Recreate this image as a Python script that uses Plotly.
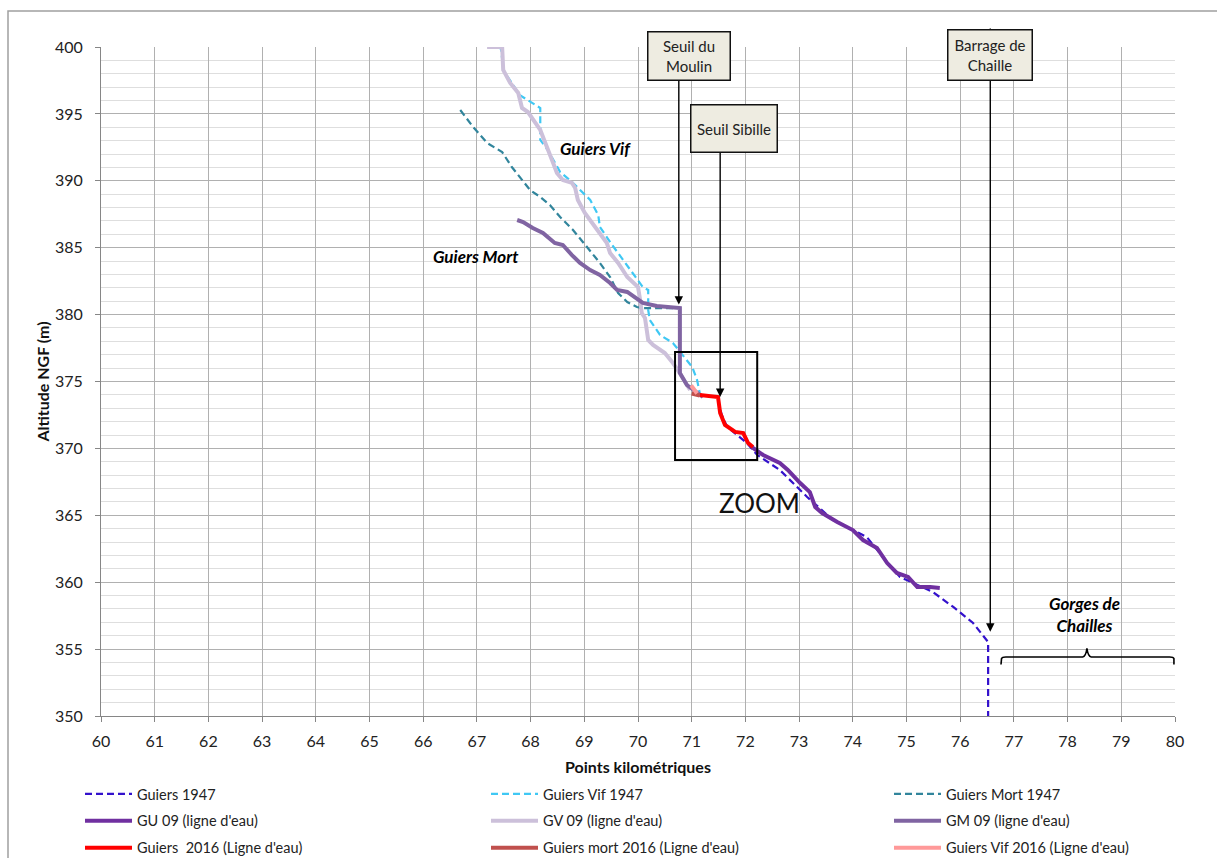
import plotly.graph_objects as go

# ---------------- data (km, altitude m) ----------------
g1947_x = [71.49, 71.56, 71.66, 72.03, 72.22, 72.64, 73.15, 73.63, 74.00, 74.26, 74.56, 74.88, 75.49, 75.87, 76.24, 76.52, 76.52]
g1947_y = [373.62, 372.5, 371.60, 370.40, 369.51, 368.39, 366.37, 364.65, 363.90, 363.38, 361.88, 360.39, 359.27, 358.15, 356.95, 355.53, 350.0]

vif1947_x = [67.18, 67.45, 67.49, 67.80, 68.18, 68.18, 68.18, 68.32, 68.55, 68.79, 69.11, 69.26, 69.29, 69.52, 69.85, 70.09, 70.19, 70.19, 70.22, 70.41, 70.65, 71.01, 71.10, 71.15]
vif1947_y = [400.1, 399.9, 398.28, 396.4, 395.44, 394.17, 393.05, 392.3, 390.66, 389.84, 388.57, 387.44, 386.55, 385.2, 383.33, 382.06, 381.84, 380.34, 379.6, 378.48, 377.88, 376.08, 375.11, 374.14]

mort1947_x = [66.69, 66.93, 67.19, 67.47, 67.65, 67.99, 68.18, 68.36, 68.55, 68.79, 69.05, 69.29, 69.48, 69.63, 69.80, 69.98, 70.09, 70.73]
mort1947_y = [395.29, 394.02, 392.83, 392.15, 391.03, 389.31, 388.79, 388.19, 387.29, 386.32, 385.05, 383.86, 382.81, 381.61, 380.94, 380.57, 380.49, 380.49]

gu09_x = [72.12, 72.33, 72.64, 72.79, 73.02, 73.20, 73.30, 73.43, 73.71, 74.00, 74.19, 74.45, 74.64, 74.82, 75.03, 75.20, 75.44, 75.62]
gu09_y = [370.10, 369.51, 368.91, 368.39, 367.41, 366.74, 365.62, 365.17, 364.50, 363.90, 363.15, 362.56, 361.43, 360.69, 360.39, 359.64, 359.64, 359.57]

gv09_x = [67.19, 67.47, 67.49, 67.62, 67.77, 67.84, 67.95, 68.18, 68.42, 68.49, 68.60, 68.77, 68.83, 68.88, 69.01, 69.29, 69.42, 69.48, 69.63, 69.80, 69.91, 70.00, 70.04, 70.07, 70.13, 70.19, 70.28, 70.50, 70.65, 70.74, 70.97]
gv09_y = [400.0, 400.0, 398.28, 397.31, 396.56, 395.44, 395.14, 393.80, 391.33, 390.58, 390.06, 389.84, 389.46, 388.57, 387.59, 386.10, 385.35, 384.60, 383.86, 382.81, 382.44, 382.06, 381.09, 380.12, 379.75, 378.10, 377.73, 377.13, 376.38, 375.86, 374.36]

gm09_x = [67.75, 67.86, 68.04, 68.23, 68.45, 68.60, 68.77, 68.92, 69.11, 69.29, 69.48, 69.61, 69.80, 69.94, 70.09, 70.35, 70.78, 70.78, 70.78, 70.91, 71.10, 71.21]
gm09_y = [387.07, 386.92, 386.47, 386.10, 385.35, 385.20, 384.45, 383.86, 383.33, 382.96, 382.36, 381.84, 381.69, 381.32, 380.87, 380.64, 380.49, 378.10, 375.63, 374.74, 374.14, 373.84]

g2016_x = [71.15, 71.49, 71.53, 71.62, 71.81, 71.96, 72.05, 72.14]
g2016_y = [373.99, 373.84, 372.65, 371.75, 371.23, 371.15, 370.40, 370.10]

mort2016_x = [71.00, 71.15]
mort2016_y = [374.10, 373.95]

vif2016_x = [70.99, 71.10]
vif2016_y = [374.70, 374.10]

series_names = ["Guiers 1947", "Guiers Vif 1947", "Guiers Mort 1947",
                "GU 09 (ligne d'eau)", "GV 09 (ligne d'eau)", "GM 09 (ligne d'eau)",
                "Guiers  2016 (Ligne d'eau)", "Guiers mort 2016 (Ligne d'eau)", "Guiers Vif 2016 (Ligne d'eau)"]
series_colors = ["#3311CC", "#3FC8F4", "#31859C", "#7030A0", "#CCC0DA", "#8064A2", "#FF0000", "#C0504D", "#FF9999"]

x_ticks = list(range(60, 81))
y_ticks = list(range(350, 401, 5))

# ---------------- figure ----------------
FONT = "Lato"
fig = go.Figure()

series = [
    (g1947_x, g1947_y), (vif1947_x, vif1947_y), (mort1947_x, mort1947_y),
    (gu09_x, gu09_y), (gv09_x, gv09_y), (gm09_x, gm09_y),
    (g2016_x, g2016_y), (mort2016_x, mort2016_y), (vif2016_x, vif2016_y),
]
legend_of = ["legend", "legend2", "legend3"] * 3
for i, ((xs, ys), name, col) in enumerate(zip(series, series_names, series_colors)):
    dashed = i < 3
    fig.add_trace(go.Scatter(
        x=xs, y=ys, mode="lines", name=name,
        line=dict(color=col, width=2.2 if dashed else 4, dash="7px,4px" if dashed else "solid"),
        legend=legend_of[i], legendgroup=name, showlegend=True,
        hoverinfo="skip",
    ))

W, H = 1217, 858
L, R, T, B = 101, 42, 47, 142
pw, ph = W - L - R, H - T - B


def px2paper(px, py):
    return (px - L) / pw, (H - B - py) / ph


legend_common = dict(
    orientation="v", font=dict(family=FONT, size=14.5, color="#222222"),
    bgcolor="rgba(0,0,0,0)", itemwidth=47, tracegroupgap=5,
    xanchor="left", yanchor="top", traceorder="grouped",
)
lx1, ly = px2paper(80, 778)
lx2, _ = px2paper(486, 778)
lx3, _ = px2paper(889, 778)

fig.update_layout(
    width=W, height=H,
    margin=dict(l=L, r=R, t=T, b=B, autoexpand=False),
    paper_bgcolor="white", plot_bgcolor="white",
    font=dict(family=FONT, size=16, color="#222222"),
    showlegend=True,
    legend=dict(x=lx1, y=ly, **legend_common),
    legend2=dict(x=lx2, y=ly, **legend_common),
    legend3=dict(x=lx3, y=ly, **legend_common),
    xaxis=dict(
        range=[60, 80], tickvals=x_ticks, ticktext=[str(v) for v in x_ticks],
        showgrid=True, gridcolor="#B0B0B0", gridwidth=1,
        showline=True, linecolor="#868686", linewidth=1,
        ticks="outside", ticklen=5, tickcolor="#868686",
        ticklabelstandoff=6,
        zeroline=False, tickfont=dict(family=FONT, size=16, color="#222222"),
        title=dict(text="Points kilométriques", font=dict(family=FONT, size=16, weight="bold", color="#111111"), standoff=12),
        fixedrange=True,
    ),
    yaxis=dict(
        range=[350, 400], tickvals=y_ticks, ticktext=[str(v) for v in y_ticks],
        showgrid=True, gridcolor="#B0B0B0", gridwidth=1,
        minor=dict(dtick=1, tick0=350, showgrid=True, gridcolor="#DEDEDE", gridwidth=1),
        showline=True, linecolor="#868686", linewidth=1,
        ticks="outside", ticklen=5, tickcolor="#868686",
        ticklabelstandoff=9,
        zeroline=False, tickfont=dict(family=FONT, size=16, color="#222222"),
        title=dict(text="Altitude NGF (m)", font=dict(family=FONT, size=16, weight="bold", color="#111111"), standoff=1),
        fixedrange=True,
    ),
)

# outer chart-area frame
fx0, fy0 = px2paper(8, 11)
fx1, fy1 = px2paper(1230, 880)
fig.add_shape(type="rect", xref="paper", yref="paper", x0=fx0, y0=fy1, x1=fx1, y1=fy0,
              line=dict(color="#A0A0A0", width=1.5), fillcolor="rgba(0,0,0,0)", layer="below")

# ZOOM rectangle
fig.add_shape(type="rect", xref="x", yref="y", x0=70.69, x1=72.22, y0=369.13, y1=377.2,
              line=dict(color="black", width=2))

# brace "Gorges de Chailles"
fig.add_shape(type="path", xref="x", yref="y",
              path="M 76.76 353.85 L 76.77 354.30 Q 76.78 354.41 76.85 354.41 L 78.28 354.41 Q 78.34 354.45 78.36 355.05 "
                   "Q 78.38 354.45 78.44 354.41 L 79.90 354.41 Q 79.97 354.41 79.98 354.30 L 79.98 353.85",
              line=dict(color="black", width=1.6))

# arrows (drawn first, boxes on top)
arrows = [
    (70.76, 380.75, 70.76, 399.0),    # Seuil du Moulin
    (71.53, 373.85, 71.53, 392.8),    # Seuil Sibille
    (76.56, 356.3, 76.56, 401.5),     # Barrage de Chaille
]
for x, y, ax, ay in arrows:
    fig.add_annotation(x=x, y=y, ax=ax, ay=ay, xref="x", yref="y", axref="x", ayref="y",
                       text="", showarrow=True, arrowhead=2, arrowsize=1.2, arrowwidth=1.4,
                       arrowcolor="black")

box_style = dict(xref="x", yref="y", showarrow=False, bgcolor="#EEECE1", bordercolor="#111111",
                 borderwidth=1.5, borderpad=2, font=dict(family=FONT, size=15, color="#222222"),
                 align="center", valign="middle")
fig.add_annotation(x=60 + (688.5 - L) / 53.7, y=400 - (55.5 - T) / 13.38, text="Seuil du<br>Moulin",
                   width=77, height=43, **box_style)
fig.add_annotation(x=60 + (733.5 - L) / 53.7, y=400 - (128 - T) / 13.38, text="Seuil Sibille",
                   width=81, height=42, **box_style)
fig.add_annotation(x=60 + (989.5 - L) / 53.7, y=400 - (54.5 - T) / 13.38, text="Barrage de<br>Chaille",
                   width=79, height=45, **box_style)

# text labels
lab = dict(xref="x", yref="y", showarrow=False, font=dict(family=FONT, size=17, color="black", weight="bold", style="italic"))
fig.add_annotation(x=69.20, y=392.45, text="Guiers Vif", **lab)
fig.add_annotation(x=66.98, y=384.38, text="Guiers Mort", **lab)
fig.add_annotation(x=78.32, y=357.55, text="Gorges de<br>Chailles", **lab)
fig.add_annotation(x=72.27, y=365.92, text="ZOOM", xref="x", yref="y", showarrow=False,
                   font=dict(family=FONT, size=26, color="#111111"))

fig.write_html("out.html")
